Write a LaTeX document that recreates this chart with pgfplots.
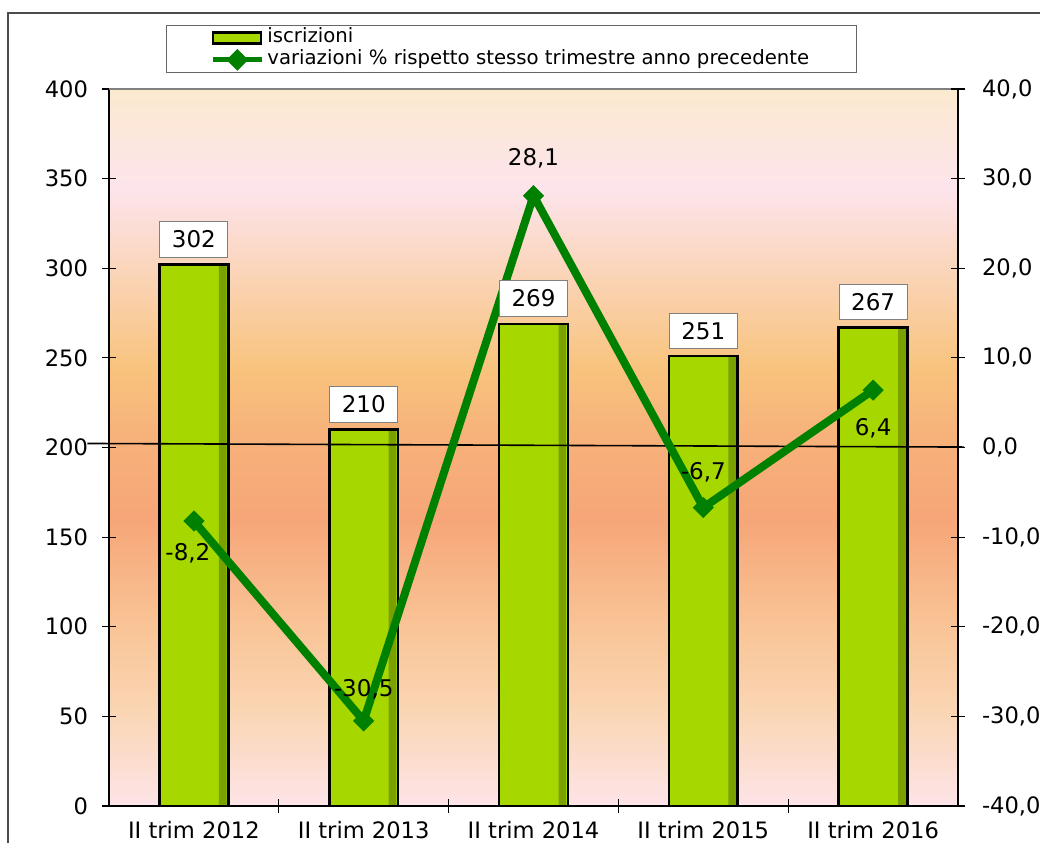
\documentclass[border=0pt]{standalone}
\usepackage{fontspec}
\setmainfont{DejaVu Sans}
\usepackage{pgfplots}
\usepackage{pgfplotstable}
\pgfplotsset{compat=1.18}

\definecolor{bargreen}{RGB}{166,216,0}
\definecolor{bardark}{RGB}{92,124,0}
\definecolor{linegreen}{RGB}{0,128,0}
\definecolor{bgA}{RGB}{253,228,232}
\definecolor{bgB}{RGB}{250,214,180}
\definecolor{bgC}{RGB}{249,196,150}
\definecolor{bgD}{RGB}{246,166,120}
\definecolor{bgE}{RGB}{247,178,122}
\definecolor{bgF}{RGB}{248,195,125}
\definecolor{bgG}{RGB}{253,228,236}
\definecolor{bgH}{RGB}{251,233,207}

\pgfdeclareverticalshading{bgshade}{100bp}{color(0bp)=(bgA); color(25bp)=(bgA); color(31.5bp)=(bgB); color(37.5bp)=(bgC); color(45bp)=(bgD); color(51bp)=(bgE); color(55.5bp)=(bgF); color(68bp)=(bgG); color(75bp)=(bgH); color(100bp)=(bgH)}

\pgfplotstableread{
x y
0 302
1 210
2 269
3 251
4 267
}\bars
\pgfplotstableread{
x y
0 -8.2
1 -30.5
2 28.1
3 -6.7
4 6.4
}\variaz

\begin{document}
\begin{tikzpicture}
\useasboundingbox (0,0) rectangle (520pt,421.5pt);
\draw[gray!60!black, line width=0.6pt] (4pt,0) -- (4pt,415pt) -- (520pt,415pt);
\begin{axis}[
  at={(54.5pt,18.5pt)}, anchor=south west,
  scale only axis, width=424.5pt, height=358.5pt,
  xmin=-0.5, xmax=4.5, ymin=0, ymax=400, ytick distance=50,
  axis x line*=bottom, axis y line*=left,
  axis line style={black, line width=0.8pt, -},
  axis background/.style={shade, shading=bgshade},
  xtick={0,1,2,3,4},
  xticklabels={II trim 2012,II trim 2013,II trim 2014,II trim 2015,II trim 2016},
  major x tick style={draw=none},
  minor xtick={0.5,1.5,2.5,3.5},
  minor x tick style={black, line width=0.6pt},
  minor tick length=7pt,
  tick align=center, major tick length=7pt,
  tick style={black, line width=0.6pt},
  ticklabel style={font=\fontsize{11.3}{13}\selectfont},
  yticklabel style={xshift=-3.5pt},
  xticklabel style={text depth=0pt, yshift=-0.5pt},
  /pgf/number format/assume math mode=true,
  clip=false,
]
\addplot[ybar, bar width=0.406, fill=bargreen, draw=none] table[x=x,y=y] {\bars};
\addplot[ybar, bar width=0.045, bar shift=0.17, fill=bardark!60!bargreen, draw=none] table[x=x,y=y] {\bars};
\addplot[ybar, bar width=0.406, fill=none, draw=black, line width=1.3pt] table[x=x,y=y] {\bars};
\draw[gray, line width=1pt] (rel axis cs:0,1) -- (rel axis cs:1,1);
\end{axis}
\begin{axis}[
  at={(54.5pt,18.5pt)}, anchor=south west,
  scale only axis, width=424.5pt, height=358.5pt,
  xmin=-0.5, xmax=4.5, ymin=-40, ymax=40, ytick distance=10,
  axis y line*=right, axis x line=none,
  axis line style={black, line width=0.8pt, -},
  tick align=center, major tick length=7pt,
  tick style={black, line width=0.6pt},
  ticklabel style={font=\fontsize{11.3}{13}\selectfont},
  yticklabel style={xshift=5pt, /pgf/number format/.cd, use comma, fixed, fixed zerofill, precision=1},
  /pgf/number format/assume math mode=true,
  clip=false,
  legend style={at={(0.0671,1.0893)}, anchor=north west, draw=gray!80!black, fill=white,
    font=\fontsize{9.85}{11}\selectfont, inner xsep=22pt, inner ysep=0.75pt, row sep=0pt,
    nodes={inner xsep=1.5pt, inner ysep=0.5pt, text height=7.5pt, text depth=2.5pt}},
  legend cell align=left,
]
\addlegendimage{legend image code/.code={\fill[bargreen] (0pt,-2.8pt) rectangle (24pt,2.8pt); \draw[draw=black, line width=1.3pt] (0pt,-2.8pt) rectangle (24pt,2.8pt);}}
\addlegendentry{iscrizioni}
\draw[black, line width=0.8pt] (axis cs:-0.627,0.45) -- (axis cs:4.535,0.05);
\addplot[linegreen, line width=4pt, mark=square*, mark size=3.5pt,
  mark options={solid, rotate=45, line width=0.5pt},
  legend image code/.code={\draw[linegreen, line width=2.5pt] (0pt,0pt) -- (24.5pt,0pt); \fill[linegreen] (12.25pt,0pt) +(0,2.6pt) -- +(2.6pt,0) -- +(0,-2.6pt) -- +(-2.6pt,0) -- cycle;}]
  table[x=x,y=y] {\variaz};
\addlegendentry{variazioni \% rispetto stesso trimestre anno precedente}
\begin{scope}[every node/.style={font=\fontsize{11.5}{13}\selectfont, text=black}]
\node at (axis cs:0,-8.2) [yshift=-16pt, xshift=-3pt] {-8,2};
\node at (axis cs:1,-30.5) [yshift=16pt] {-30,5};
\node at (axis cs:2,28.1) [yshift=18.5pt] {28,1};
\node at (axis cs:3,-6.7) [yshift=17.5pt] {-6,7};
\node at (axis cs:4,6.4) [yshift=-19pt] {6,4};
\end{scope}
% bar value labels, drawn above the line (bar values mapped onto this axis: y/5-40)
\addplot[forget plot, draw=none, mark=none, point meta=explicit,
  nodes near coords={\pgfmathprintnumber[fixed, precision=0]{\pgfplotspointmeta}},
  every node near coord/.append style={fill=white, draw=gray, line width=0.5pt, inner xsep=6pt, inner ysep=4.5pt,
     anchor=south, yshift=3.5pt, font=\fontsize{11.5}{13}\selectfont, text=black}]
  table[x=x, y expr=\thisrow{y}/5-40, meta=y] {\bars};
\end{axis}
\end{tikzpicture}
\end{document}
